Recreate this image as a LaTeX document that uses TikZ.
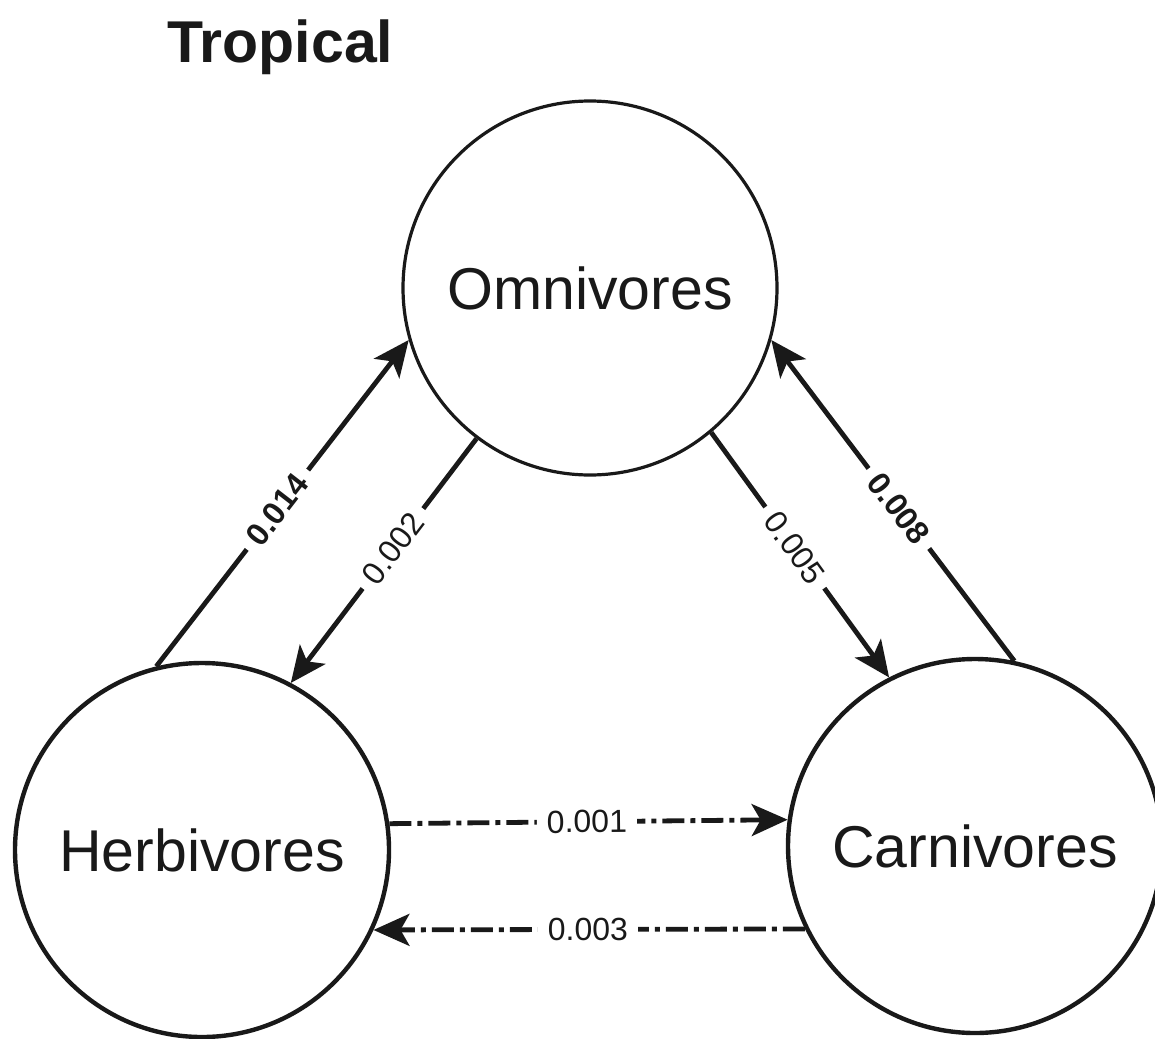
\documentclass[tikz,border=0pt]{standalone}
\usepackage{fontspec}
\setmainfont{Liberation Sans}
\usetikzlibrary{arrows.meta}
\begin{document}
\begin{tikzpicture}[x=0.5pt,y=-0.5pt,black!90,
  pool/.style={circle,draw,line width=2.2pt,minimum size=187pt,inner sep=0pt,
    font=\fontsize{29.5}{35}\selectfont},
  link/.style={line width=2.4pt,-{Stealth[length=18pt,width=16pt,inset=4.5pt]}},
  weak/.style={link,dash pattern=on 11pt off 3pt on 2.5pt off 3pt},
  rate/.style={sloped,fill=white,inner xsep=5pt,inner ysep=1pt,
    font=\fontsize{16}{19}\selectfont}]
  \useasboundingbox (0,0) rectangle (1155,1038);
  \node[anchor=base west,font=\fontsize{29.5}{35}\selectfont\bfseries] (title) at (160,63) {Tropical};
  \node[pool,line width=1.6pt] (omn) at (590,288) {Omnivores};
  \node[pool] (herb) at (202,850) {Herbivores};
  \node[pool] (carn) at (975,846) {Carnivores};
  % flows between the three groups
  \draw[link] (herb.104.6) -- node[rate,pos=0.48,font=\fontsize{16}{19}\selectfont\bfseries] {0.014} (omn.196.7);
  \draw[link] (omn.233) -- node[rate,pos=0.45] {0.002} (herb.62.2);
  \draw[link] (omn.310) -- node[rate,pos=0.47] {0.005} (carn.117.2);
  \draw[link] (carn.78) -- node[rate,pos=0.475,font=\fontsize{16}{19}\selectfont\bfseries] {0.008} (omn.344);
  \draw[weak] (herb.8.6) -- node[rate,pos=0.496] {0.001} (carn.172.6);
  \draw[weak] (carn.206.7) -- node[rate,pos=0.503] {0.003} (herb.-25.3);
\end{tikzpicture}
\end{document}
